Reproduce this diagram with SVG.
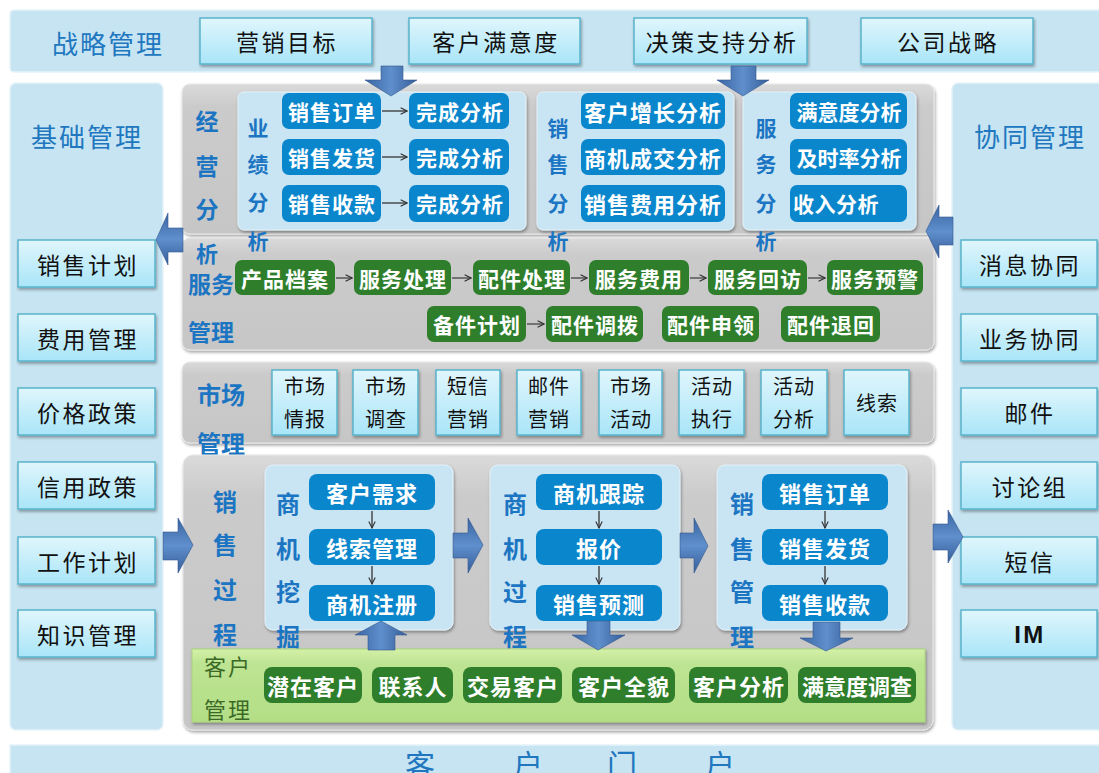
<svg xmlns="http://www.w3.org/2000/svg" width="1099" height="773" viewBox="0 0 1099 773">
<defs>
<linearGradient id="gBox" x1="0" y1="0" x2="0" y2="1"><stop offset="0" stop-color="#e0f6fc"/><stop offset="1" stop-color="#a9e5f8"/></linearGradient>
<linearGradient id="gGray" x1="0" y1="0" x2="0" y2="1"><stop offset="0" stop-color="#dadada"/><stop offset="0.15" stop-color="#cbcbcb"/><stop offset="1" stop-color="#c6c6c6"/></linearGradient>
<linearGradient id="gGreen" x1="0" y1="0" x2="0" y2="1"><stop offset="0" stop-color="#d4f0a8"/><stop offset="0.2" stop-color="#bde492"/><stop offset="1" stop-color="#b3de86"/></linearGradient>
<linearGradient id="gArrV" x1="0" y1="0" x2="1" y2="0"><stop offset="0" stop-color="#3b65a3"/><stop offset="0.5" stop-color="#5f8fcc"/><stop offset="1" stop-color="#365e9a"/></linearGradient>
<linearGradient id="gArrH" x1="0" y1="0" x2="0" y2="1"><stop offset="0" stop-color="#3b65a3"/><stop offset="0.5" stop-color="#5f8fcc"/><stop offset="1" stop-color="#365e9a"/></linearGradient>
<filter id="sh" x="-5%" y="-5%" width="110%" height="120%"><feDropShadow dx="1" dy="2" stdDeviation="1.5" flood-color="#000" flood-opacity="0.35"/></filter>
<marker id="open" viewBox="0 0 10 10" refX="9" refY="5" markerWidth="8" markerHeight="8" orient="auto" markerUnits="userSpaceOnUse"><path d="M1,1 L9,5 L1,9" fill="none" stroke="#333" stroke-width="1.4"/></marker>
<style>
.bar{fill:#c7e4f2;stroke:#e6f3f9;stroke-width:1.5}
.tbox{fill:url(#gBox);stroke:#58b4cc;stroke-width:1.5;filter:url(#sh)}
.title{font-family:"Noto Sans CJK SC","Noto Sans",sans-serif;font-size:26px;fill:#2077bf;text-anchor:middle;dominant-baseline:central;letter-spacing:2px}
.btxt{font-family:"Noto Sans CJK SC","Noto Sans",sans-serif;font-size:23px;fill:#111;text-anchor:middle;dominant-baseline:central;letter-spacing:2.5px}
.gray{fill:url(#gGray);stroke:#e8e8e8;stroke-width:1;filter:url(#sh)}
.inner{fill:#c9e5f3;stroke:#e4f2f9;stroke-width:1;filter:url(#sh)}
.bb{fill:#0a86cc}
.gb{fill:#2e7e2b}
.wt{font-family:"Noto Sans CJK SC","Noto Sans",sans-serif;font-weight:bold;font-size:21px;fill:#fff;text-anchor:middle;dominant-baseline:central;letter-spacing:1px}
.vl{font-family:"Noto Sans CJK SC","Noto Sans",sans-serif;font-weight:bold;font-size:22px;fill:#1c75c2;text-anchor:middle;dominant-baseline:central}
.mt{font-family:"Noto Sans CJK SC","Noto Sans",sans-serif;font-size:20px;fill:#111;text-anchor:middle;dominant-baseline:central;letter-spacing:1px}
.thin{stroke:#333;stroke-width:1.3;fill:none;marker-end:url(#open)}
.av{fill:url(#gArrV);stroke:#33598f;stroke-width:0.6}
.ah{fill:url(#gArrH);stroke:#33598f;stroke-width:0.6}
</style>
</defs>
<rect width="1099" height="773" fill="#ffffff"/>

<g id="strategy">
<rect class="bar" x="10" y="10" width="1100" height="62" rx="4"/>
<text class="title" x="108" y="42">战略管理</text>
<g id="n-yxmb"><rect class="tbox" x="200" y="18" width="172" height="46"/><text class="btxt" x="287" y="41">营销目标</text></g>
<g id="n-khmyd"><rect class="tbox" x="409" y="18" width="171" height="46"/><text class="btxt" x="496" y="41">客户满意度</text></g>
<g id="n-jczcfx"><rect class="tbox" x="634" y="18" width="173" height="46"/><text class="btxt" x="722" y="41">决策支持分析</text></g>
<g id="n-gszl"><rect class="tbox" x="861" y="18" width="172" height="46"/><text class="btxt" x="948" y="41">公司战略</text></g>
</g>

<g id="basic">
<rect class="bar" x="10" y="83" width="153" height="647" rx="6"/>
<text class="title" x="87" y="135">基础管理</text>
<g id="n-xsjh"><rect class="tbox" x="18" y="240" width="137" height="47"/><text class="btxt" x="88" y="264">销售计划</text></g>
<g id="n-fygl"><rect class="tbox" x="18" y="314" width="137" height="47"/><text class="btxt" x="88" y="338">费用管理</text></g>
<g id="n-jgzc"><rect class="tbox" x="18" y="388" width="137" height="47"/><text class="btxt" x="88" y="412">价格政策</text></g>
<g id="n-xyzc"><rect class="tbox" x="18" y="462" width="137" height="47"/><text class="btxt" x="88" y="486">信用政策</text></g>
<g id="n-gzjh"><rect class="tbox" x="18" y="537" width="137" height="47"/><text class="btxt" x="88" y="561">工作计划</text></g>
<g id="n-zsgl"><rect class="tbox" x="18" y="610" width="137" height="47"/><text class="btxt" x="88" y="634">知识管理</text></g>
</g>

<g id="collab">
<rect class="bar" x="952" y="83" width="160" height="647" rx="6"/>
<text class="title" x="1030" y="135">协同管理</text>
<g id="n-xxxt"><rect class="tbox" x="961" y="240" width="136" height="47"/><text class="btxt" x="1030" y="264">消息协同</text></g>
<g id="n-ywxt"><rect class="tbox" x="961" y="314" width="136" height="47"/><text class="btxt" x="1030" y="338">业务协同</text></g>
<g id="n-yj"><rect class="tbox" x="961" y="388" width="136" height="47"/><text class="btxt" x="1030" y="412">邮件</text></g>
<g id="n-tlz"><rect class="tbox" x="961" y="462" width="136" height="47"/><text class="btxt" x="1030" y="486">讨论组</text></g>
<g id="n-dx"><rect class="tbox" x="961" y="537" width="136" height="47"/><text class="btxt" x="1030" y="561">短信</text></g>
<g id="n-im"><rect class="tbox" x="961" y="610" width="136" height="47"/><text class="btxt" x="1030" y="634" style="font-weight:bold;font-family:'Liberation Sans',sans-serif;font-size:24px">IM</text></g>
</g>

<g id="analysis">
<rect class="gray" x="182" y="84" width="752" height="150" rx="8"/>
<rect class="inner" x="238" y="92" width="288" height="138" rx="6"/>
<rect class="inner" x="537" y="92" width="197" height="138" rx="6"/>
<rect class="inner" x="743" y="92" width="173" height="138" rx="6"/>
<g id="n-yjfx">
<rect class="bb" x="282" y="93" width="99" height="36" rx="7"/><text class="wt" x="332" y="111">销售订单</text>
<rect class="bb" x="409" y="93" width="100" height="36" rx="7"/><text class="wt" x="460" y="111">完成分析</text>
<rect class="bb" x="282" y="139" width="99" height="36" rx="7"/><text class="wt" x="332" y="157">销售发货</text>
<rect class="bb" x="409" y="139" width="100" height="36" rx="7"/><text class="wt" x="460" y="157">完成分析</text>
<rect class="bb" x="282" y="185" width="99" height="37" rx="7"/><text class="wt" x="332" y="203">销售收款</text>
<rect class="bb" x="409" y="185" width="100" height="37" rx="7"/><text class="wt" x="460" y="203">完成分析</text>
</g>
<g id="n-xsfx">
<rect class="bb" x="581" y="93" width="144" height="36" rx="7"/><text class="wt" x="653" y="111" style="font-size:22px">客户增长分析</text>
<rect class="bb" x="581" y="139" width="144" height="36" rx="7"/><text class="wt" x="653" y="157" style="font-size:22px">商机成交分析</text>
<rect class="bb" x="581" y="185" width="144" height="37" rx="7"/><text class="wt" x="653" y="203" style="font-size:22px">销售费用分析</text>
</g>
<g id="n-fwfx">
<rect class="bb" x="790" y="93" width="117" height="36" rx="7"/><text class="wt" x="849" y="111" style="letter-spacing:0">满意度分析</text>
<rect class="bb" x="790" y="139" width="117" height="36" rx="7"/><text class="wt" x="849" y="157" style="letter-spacing:0">及时率分析</text>
<rect class="bb" x="790" y="185" width="117" height="37" rx="7"/><text class="wt" x="793" y="203" style="text-anchor:start;letter-spacing:0.5px">收入分析</text>
</g>
</g>

<g id="service">
<rect class="gray" x="182" y="238" width="752" height="112" rx="8"/>
<text class="vl" x="211" y="283" style="font-size:23px">服务</text>
<text class="vl" x="211" y="331" style="font-size:23px">管理</text>
<g id="n-fw1">
<rect class="gb" x="235" y="260" width="100" height="35" rx="7"/><text class="wt" x="285" y="278">产品档案</text>
<rect class="gb" x="354" y="260" width="97" height="35" rx="7"/><text class="wt" x="403" y="278">服务处理</text>
<rect class="gb" x="473" y="260" width="97" height="35" rx="7"/><text class="wt" x="522" y="278">配件处理</text>
<rect class="gb" x="589" y="260" width="100" height="35" rx="7"/><text class="wt" x="639" y="278">服务费用</text>
<rect class="gb" x="708" y="260" width="99" height="35" rx="7"/><text class="wt" x="758" y="278">服务回访</text>
<rect class="gb" x="827" y="260" width="96" height="35" rx="7"/><text class="wt" x="875" y="278">服务预警</text>
</g>
<g id="n-fw2">
<rect class="gb" x="427" y="306" width="99" height="36" rx="7"/><text class="wt" x="477" y="324">备件计划</text>
<rect class="gb" x="546" y="306" width="97" height="36" rx="7"/><text class="wt" x="595" y="324">配件调拨</text>
<rect class="gb" x="662" y="306" width="97" height="36" rx="7"/><text class="wt" x="711" y="324">配件申领</text>
<rect class="gb" x="781" y="306" width="99" height="36" rx="7"/><text class="wt" x="831" y="324">配件退回</text>
</g>
</g>

<g id="market">
<rect class="gray" x="182" y="362" width="752" height="81" rx="8"/>
<text class="vl" x="221" y="393" style="font-size:24px">市场</text>
<g id="n-scqb"><rect class="tbox" x="272" y="370" width="65" height="65"/><text class="mt" x="305" y="385">市场</text><text class="mt" x="305" y="418">情报</text></g>
<g id="n-scdc"><rect class="tbox" x="353" y="370" width="65" height="65"/><text class="mt" x="386" y="385">市场</text><text class="mt" x="386" y="418">调查</text></g>
<g id="n-dxyx"><rect class="tbox" x="436" y="370" width="64" height="65"/><text class="mt" x="468" y="385">短信</text><text class="mt" x="468" y="418">营销</text></g>
<g id="n-yjyx"><rect class="tbox" x="517" y="370" width="64" height="65"/><text class="mt" x="549" y="385">邮件</text><text class="mt" x="549" y="418">营销</text></g>
<g id="n-schd"><rect class="tbox" x="599" y="370" width="63" height="65"/><text class="mt" x="631" y="385">市场</text><text class="mt" x="631" y="418">活动</text></g>
<g id="n-hdzx"><rect class="tbox" x="679" y="370" width="65" height="65"/><text class="mt" x="712" y="385">活动</text><text class="mt" x="712" y="418">执行</text></g>
<g id="n-hdfx"><rect class="tbox" x="761" y="370" width="66" height="65"/><text class="mt" x="794" y="385">活动</text><text class="mt" x="794" y="418">分析</text></g>
<g id="n-xs"><rect class="tbox" x="844" y="370" width="65" height="65"/><text class="mt" x="877" y="402">线索</text></g>
<text class="vl" x="221" y="442" style="font-size:24px">管理</text>
</g>

<g id="labels-analysis">
<text class="vl" x="207" y="120" style="font-size:23px">经</text>
<text class="vl" x="207" y="165" style="font-size:23px">营</text>
<text class="vl" x="207" y="208" style="font-size:23px">分</text>
<text class="vl" x="207" y="252" style="font-size:22px">析</text>
<text class="vl" x="258" y="127" style="font-size:21px">业</text>
<text class="vl" x="258" y="163" style="font-size:21px">绩</text>
<text class="vl" x="258" y="201" style="font-size:21px">分</text>
<text class="vl" x="258" y="240" style="font-size:21px">析</text>
<text class="vl" x="558" y="127" style="font-size:21px">销</text>
<text class="vl" x="558" y="163" style="font-size:21px">售</text>
<text class="vl" x="558" y="202" style="font-size:21px">分</text>
<text class="vl" x="558" y="240" style="font-size:21px">析</text>
<text class="vl" x="766" y="127" style="font-size:21px">服</text>
<text class="vl" x="766" y="163" style="font-size:21px">务</text>
<text class="vl" x="766" y="202" style="font-size:21px">分</text>
<text class="vl" x="766" y="240" style="font-size:21px">析</text>
</g>

<g id="sales">
<rect class="gray" x="183" y="455" width="750" height="275" rx="10"/>
<text class="vl" x="225" y="500" style="font-size:24px">销</text>
<text class="vl" x="225" y="543" style="font-size:24px">售</text>
<text class="vl" x="225" y="588" style="font-size:24px">过</text>
<text class="vl" x="225" y="633" style="font-size:24px">程</text>
<g id="n-sjwj">
<rect class="inner" x="265" y="465" width="188" height="165" rx="8"/>
<rect class="bb" x="309" y="474" width="126" height="36" rx="8"/><text class="wt" x="372" y="492" style="font-size:22px">客户需求</text>
<rect class="bb" x="309" y="529" width="126" height="36" rx="8"/><text class="wt" x="372" y="547" style="font-size:22px">线索管理</text>
<rect class="bb" x="309" y="585" width="126" height="36" rx="8"/><text class="wt" x="372" y="603" style="font-size:22px">商机注册</text>
</g>
<g id="n-sjgc">
<rect class="inner" x="490" y="465" width="190" height="165" rx="8"/>
<rect class="bb" x="536" y="474" width="126" height="36" rx="8"/><text class="wt" x="599" y="492" style="font-size:22px">商机跟踪</text>
<rect class="bb" x="536" y="529" width="126" height="36" rx="8"/><text class="wt" x="599" y="547" style="font-size:22px">报价</text>
<rect class="bb" x="536" y="585" width="126" height="36" rx="8"/><text class="wt" x="599" y="603" style="font-size:22px">销售预测</text>
</g>
<g id="n-xsgl">
<rect class="inner" x="717" y="465" width="190" height="165" rx="8"/>
<rect class="bb" x="762" y="474" width="126" height="36" rx="8"/><text class="wt" x="825" y="492" style="font-size:22px">销售订单</text>
<rect class="bb" x="762" y="529" width="126" height="36" rx="8"/><text class="wt" x="825" y="547" style="font-size:22px">销售发货</text>
<rect class="bb" x="762" y="585" width="126" height="36" rx="8"/><text class="wt" x="825" y="603" style="font-size:22px">销售收款</text>
</g>
<text class="vl" x="288" y="502" style="font-size:24px">商</text>
<text class="vl" x="288" y="547" style="font-size:24px">机</text>
<text class="vl" x="288" y="590" style="font-size:24px">挖</text>
<text class="vl" x="288" y="635" style="font-size:24px">掘</text>
<text class="vl" x="515" y="502" style="font-size:24px">商</text>
<text class="vl" x="515" y="547" style="font-size:24px">机</text>
<text class="vl" x="515" y="590" style="font-size:24px">过</text>
<text class="vl" x="515" y="635" style="font-size:24px">程</text>
<text class="vl" x="742" y="502" style="font-size:24px">销</text>
<text class="vl" x="742" y="547" style="font-size:24px">售</text>
<text class="vl" x="742" y="590" style="font-size:24px">管</text>
<text class="vl" x="742" y="635" style="font-size:24px">理</text>
</g>

<g id="customer">
<rect x="192" y="649" width="733" height="73" fill="url(#gGreen)" stroke="#a9d47a" stroke-width="1" filter="url(#sh)"/>
<text x="228" y="665" style="font-family:'Noto Sans CJK SC',sans-serif;font-size:22px;fill:#3b6a26;text-anchor:middle;dominant-baseline:central;letter-spacing:2px">客户</text>
<text x="228" y="708" style="font-family:'Noto Sans CJK SC',sans-serif;font-size:22px;fill:#3b6a26;text-anchor:middle;dominant-baseline:central;letter-spacing:2px">管理</text>
<g id="n-kh">
<rect class="gb" x="264" y="667" width="98" height="36" rx="8"/><text class="wt" x="313" y="685" style="font-size:22px">潜在客户</text>
<rect class="gb" x="372" y="667" width="81" height="36" rx="8"/><text class="wt" x="413" y="685" style="font-size:22px">联系人</text>
<rect class="gb" x="463" y="667" width="99" height="36" rx="8"/><text class="wt" x="513" y="685" style="font-size:22px">交易客户</text>
<rect class="gb" x="572" y="667" width="103" height="36" rx="8"/><text class="wt" x="624" y="685" style="font-size:22px">客户全貌</text>
<rect class="gb" x="689" y="667" width="99" height="36" rx="8"/><text class="wt" x="739" y="685" style="font-size:22px">客户分析</text>
<rect class="gb" x="798" y="667" width="118" height="36" rx="8"/><text class="wt" x="857" y="685" style="font-size:22px;letter-spacing:0">满意度调查</text>
</g>
</g>

<g id="portal">
<rect x="10" y="745" width="1100" height="40" fill="#c7e4f2" stroke="#e6f3f9" stroke-width="1.5"/>
<text x="405 513 607 705" y="776" style="font-family:'Noto Sans CJK SC',sans-serif;font-size:30px;fill:#2077bf">客户门户</text>
</g>

<g id="connectors">
<line class="thin" x1="382" y1="111" x2="407" y2="111"/>
<line class="thin" x1="382" y1="157" x2="407" y2="157"/>
<line class="thin" x1="382" y1="203" x2="407" y2="203"/>
<line class="thin" x1="336" y1="278" x2="352" y2="278" style="stroke:#444"/>
<line class="thin" x1="452" y1="278" x2="471" y2="278" style="stroke:#444"/>
<line class="thin" x1="571" y1="278" x2="587" y2="278" style="stroke:#444"/>
<line class="thin" x1="690" y1="278" x2="706" y2="278" style="stroke:#444"/>
<line class="thin" x1="808" y1="278" x2="825" y2="278" style="stroke:#444"/>
<line class="thin" x1="527" y1="324" x2="544" y2="324" style="stroke:#444"/>
<line class="thin" x1="372" y1="511" x2="372" y2="528"/>
<line class="thin" x1="372" y1="566" x2="372" y2="584"/>
<line class="thin" x1="599" y1="511" x2="599" y2="528"/>
<line class="thin" x1="599" y1="566" x2="599" y2="584"/>
<line class="thin" x1="825" y1="511" x2="825" y2="528"/>
<line class="thin" x1="825" y1="566" x2="825" y2="584"/>
<path class="av" d="M381,66 H403 V80 H417 L391,96 L365,80 H381 Z"/>
<path class="av" d="M731,66 H756 V80 H769 L743,96 L717,80 H731 Z"/>
<path class="ah" d="M183,228 V252 H168 V265 L156,240 L168,213 V228 Z"/>
<path class="ah" d="M953,217 V245 H939 V258 L926,231 L939,205 V217 Z"/>
<path class="ah" d="M163,532 H178 V518 L193,545 L178,573 V560 H163 Z"/>
<path class="ah" d="M453,533 H468 V518 L483,545 L468,573 V558 H453 Z"/>
<path class="ah" d="M680,533 H694 V518 L708,546 L694,573 V558 H680 Z"/>
<path class="ah" d="M933,524 H948 V510 L963,537 L948,563 V550 H933 Z"/>
<path class="av" d="M368,650 V635 H355 L381,621 L407,635 H395 V650 Z"/>
<path class="av" d="M587,621 H610 V635 H625 L598,650 L572,635 H587 Z"/>
<path class="av" d="M813,622 H840 V638 H853 L826,651 L800,638 H813 Z"/>
</g>
</svg>
